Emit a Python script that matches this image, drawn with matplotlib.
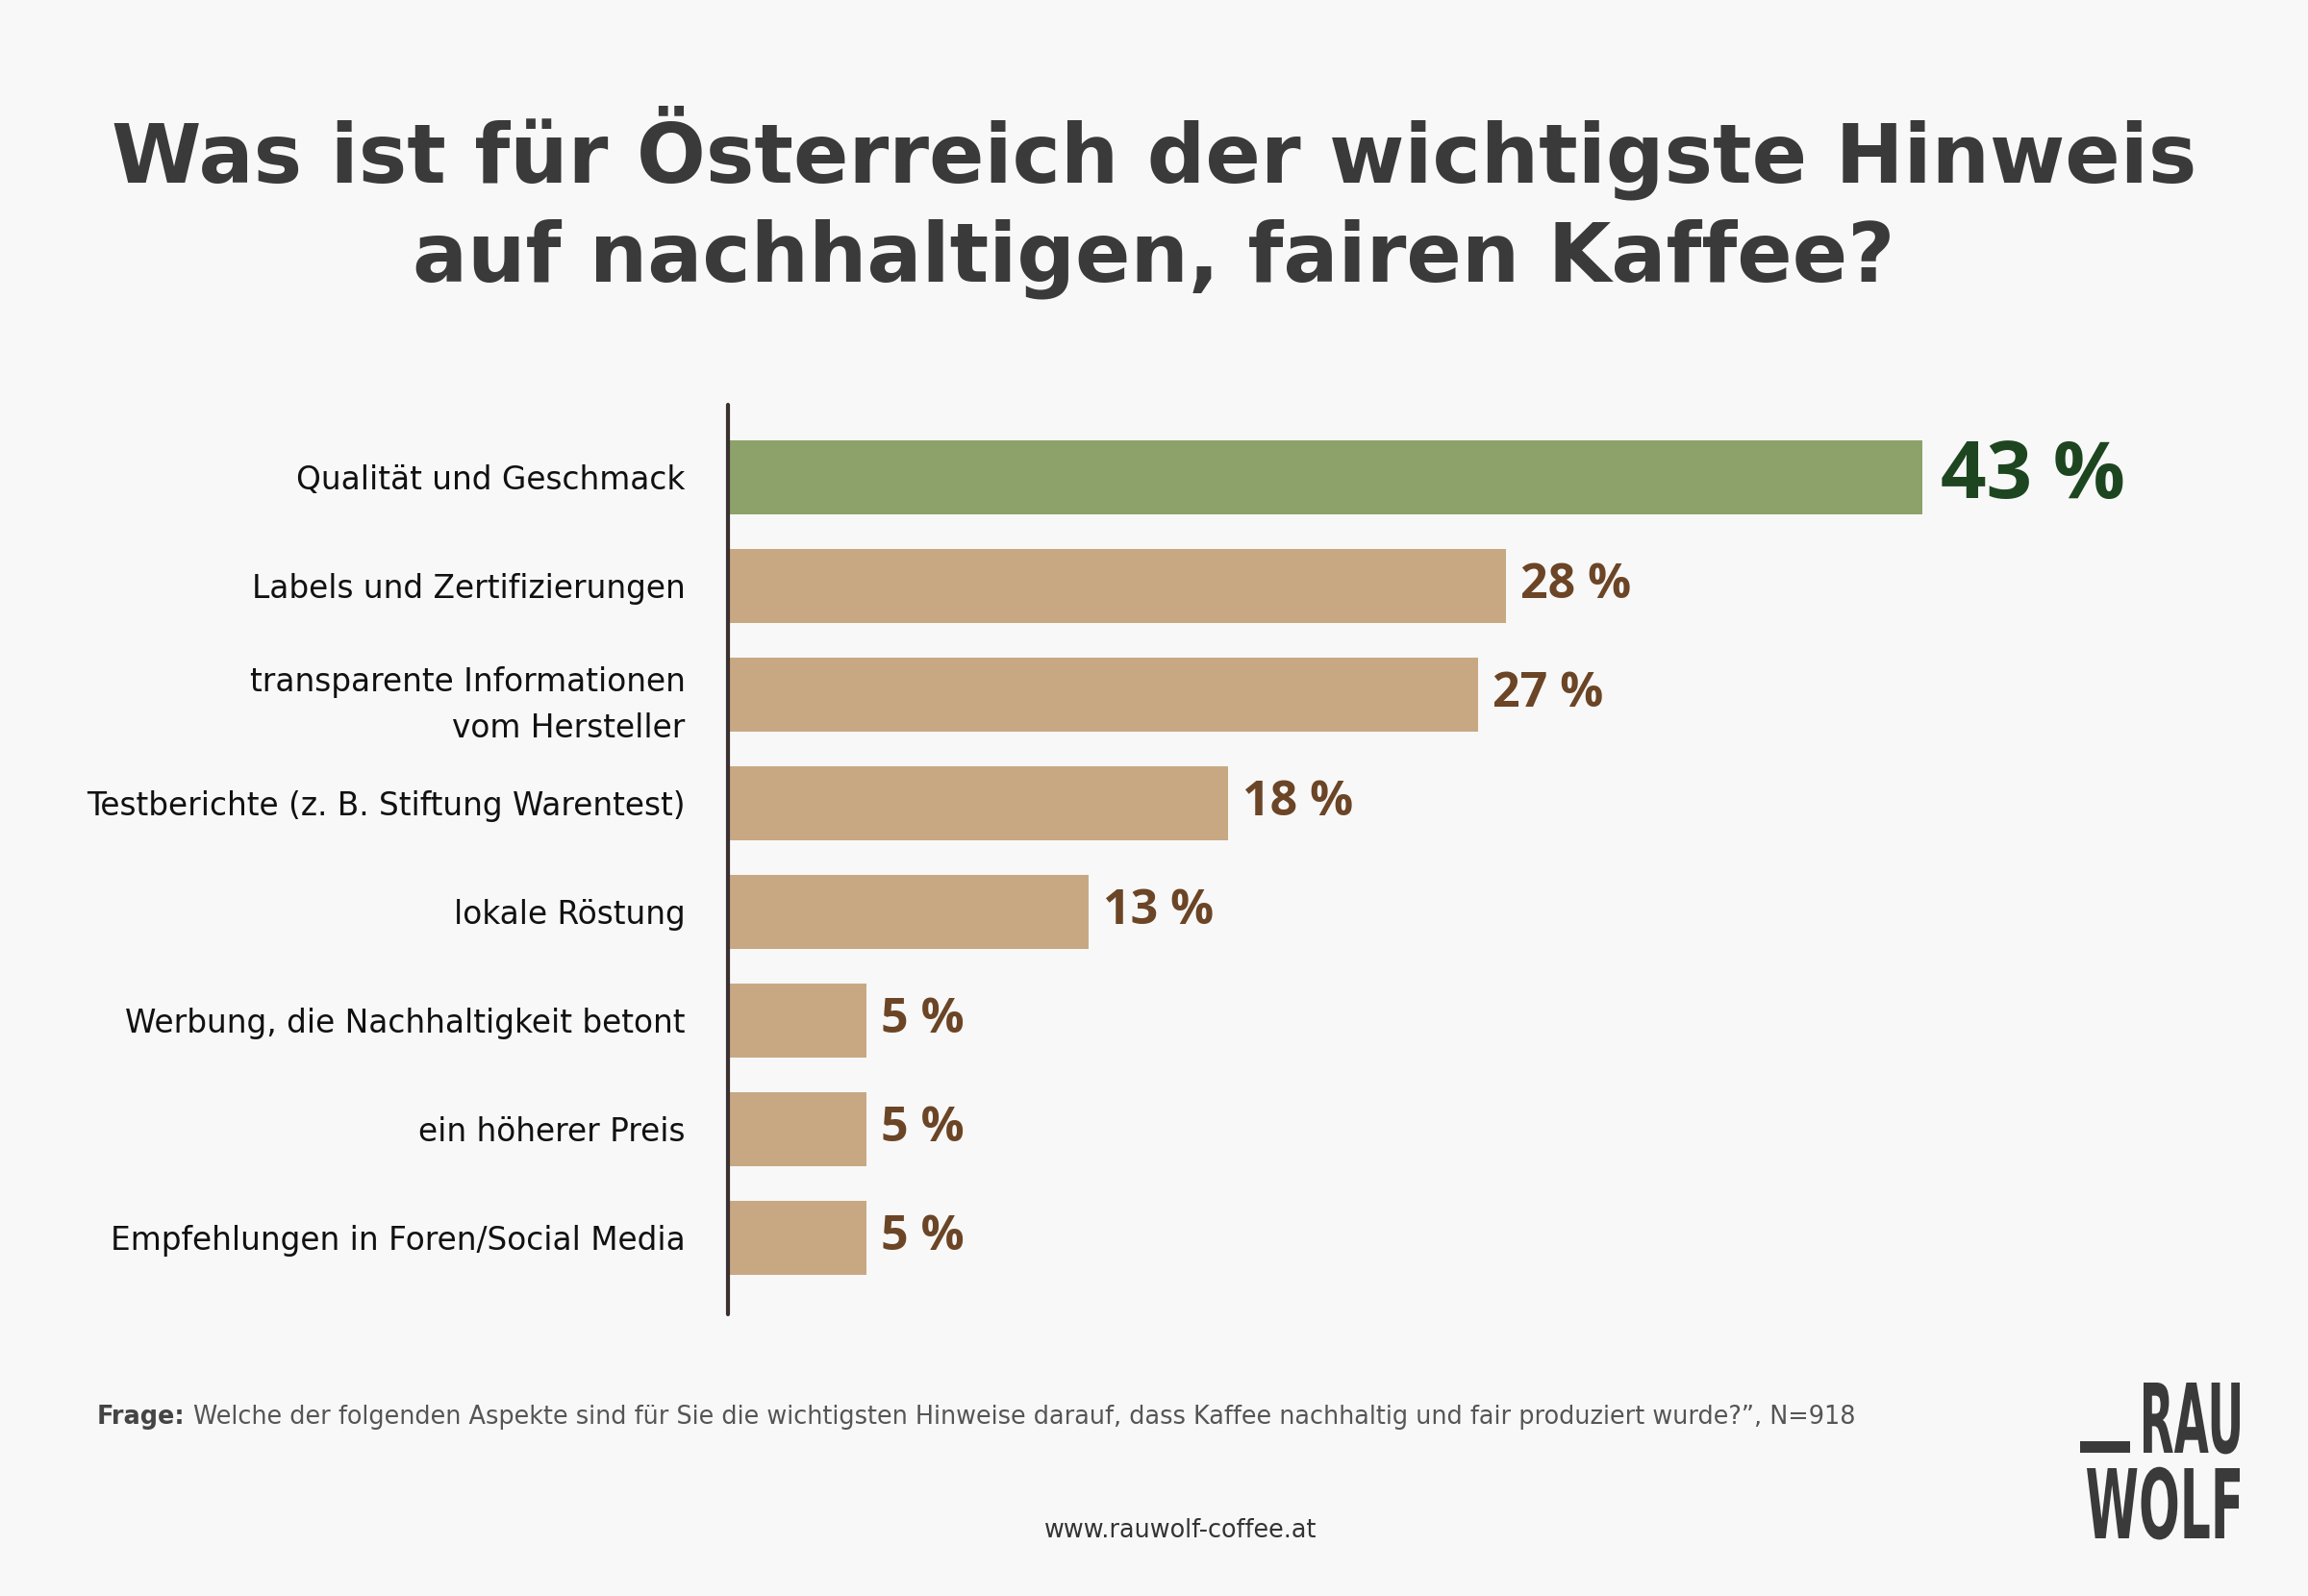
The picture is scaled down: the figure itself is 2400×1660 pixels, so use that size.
import matplotlib
matplotlib.use('Agg')
import matplotlib.pyplot as plt
from matplotlib.textpath import TextPath
from matplotlib.patches import PathPatch, Rectangle
from matplotlib.font_manager import FontProperties
from matplotlib.transforms import Affine2D, IdentityTransform

# donnees
categories = [
    'Qualität und Geschmack',
    'Labels und Zertifizierungen',
    'transparente Informationen\nvom Hersteller',
    'Testberichte (z. B. Stiftung Warentest)',
    'lokale Röstung',
    'Werbung, die Nachhaltigkeit betont',
    'ein höherer Preis',
    'Empfehlungen in Foren/Social Media',
]
values = [43, 28, 27, 18, 13, 5, 5, 5]
value_labels = ['43 %', '28 %', '27 %', '18 %', '13 %', '5 %', '5 %', '5 %']

title = 'Was ist für Österreich der wichtigste Hinweis\nauf nachhaltigen, fairen Kaffee?'
frage_bold = 'Frage:'
frage_text = ('Welche der folgenden Aspekte sind für Sie die wichtigsten Hinweise darauf, '
              'dass Kaffee nachhaltig und fair produziert wurde?”, N=918')
url = 'www.rauwolf-coffee.at'
logo_lines = ['RAU', 'WOLF']

BG = '#f8f8f8'
GREEN = '#8da26b'
TAN = '#c8a883'
DARK = '#3a3a3a'
BROWN = '#6b4526'
DKGREEN = '#1d4620'

W, H = 2400, 1660
fig = plt.figure(figsize=(W / 200, H / 200), dpi=200, facecolor=BG)

# axes en pixels : ligne verticale a x=757, de y=421 a y=1367
ax_left, ax_top, ax_bot = 757, 421, 1367
px_per_pct = (1999 - ax_left) / 43
xmax = 50
ax_w = px_per_pct * xmax
ax = fig.add_axes([ax_left / W, 1 - ax_bot / H, ax_w / W, (ax_bot - ax_top) / H])
ax.set_facecolor('none')

step = (1287 - 496) / 7
ax.set_ylim(7 + (ax_bot - 1287) / step, -(496 - ax_top) / step)
ax.set_xlim(0, xmax)

colors = [GREEN] + [TAN] * (len(values) - 1)
ypos = list(range(len(values)))
ax.barh(ypos, values, height=77 / step, color=colors, edgecolor='none')

for s in ['top', 'right', 'bottom']:
    ax.spines[s].set_visible(False)
ax.spines['left'].set_color('#3b3030')
ax.spines['left'].set_linewidth(1.5)
ax.spines['left'].set_capstyle('round')
ax.set_xticks([])
ax.set_yticks(ypos)
ax.set_yticklabels(categories, fontsize=11.8, family='DejaVu Sans', color='#111111',
                   linespacing=1.6)
ax.tick_params(axis='y', length=0, pad=16)

for i, (v, lab) in enumerate(zip(values, value_labels)):
    if i == 0:
        ax.annotate(lab, (v, i), xytext=(19 * 72 / 200, 0), textcoords='offset points',
                    va='center', ha='left', fontsize=30, fontweight='bold',
                    color=DKGREEN, family='Open Sans')
    else:
        ax.annotate(lab, (v, i), xytext=(15 * 72 / 200, 0), textcoords='offset points',
                    va='center', ha='left', fontsize=18, fontweight='bold',
                    color=BROWN, family='Open Sans')

fig.text(0.5, 1 - 210 / H, title, ha='center', va='center', fontsize=30.5,
         fontweight='bold', color=DARK, family='DejaVu Sans', linespacing=1.3)

# note en bas
t = fig.text(101 / W, 1 - 1474 / H, frage_bold, ha='left', va='center', fontsize=9.2,
             fontweight='bold', color='#444444', family='DejaVu Sans')
fig.canvas.draw()
bb = t.get_window_extent()
fig.text((bb.x1 + 8) / W, 1 - 1474 / H, frage_text, ha='left', va='center', fontsize=9.2,
         color='#555555', family='DejaVu Sans')

fig.text(1228 / W, 1 - 1592 / H, url, ha='center', va='center', fontsize=9.2,
         color='#333333', family='DejaVu Sans')

# logo : texte etroit (police condensee simulee)
fp = FontProperties(family='DejaVu Sans', weight='bold')
capH = TextPath((0, 0), 'H', size=100, prop=fp).get_extents().height
logo_boxes = [(2229, 2329, 1438, 1511), (2170, 2329, 1527, 1600)]
for txt, (x0, x1, y0, y1) in zip(logo_lines, logo_boxes):
    p = TextPath((0, 0), txt, size=100, prop=fp)
    ext = p.get_extents()
    sx = (x1 - x0) / ext.width
    sy = (y1 - y0) / capH
    tr = Affine2D().translate(-ext.x0, 0).scale(sx, sy).translate(x0, H - y1)
    fig.patches.append(PathPatch(tr.transform_path(p), facecolor=DARK, edgecolor='none',
                                 transform=IdentityTransform(), figure=fig))
fig.patches.append(Rectangle((2163, H - 1511), 52, 12, facecolor=DARK, edgecolor='none',
                             transform=IdentityTransform(), figure=fig))

fig.savefig('out.png', dpi=200, facecolor=BG)
